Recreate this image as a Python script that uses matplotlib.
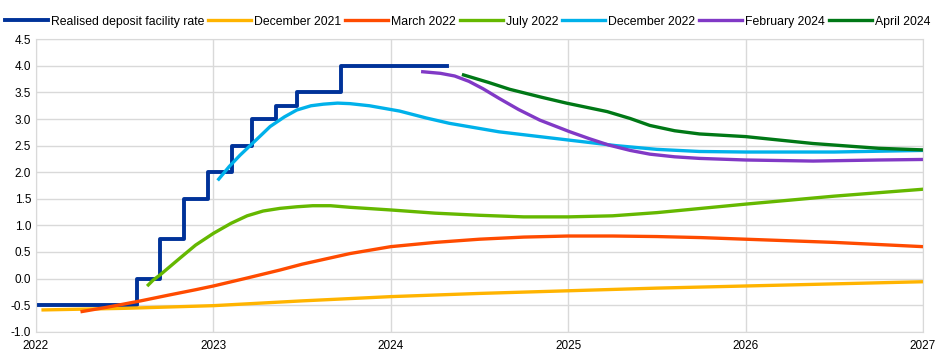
# Deposit facility rate: realised path and market-implied forward curves
import pandas as pd
import numpy as np
import matplotlib.pyplot as plt

plt.rcParams["font.family"] = ["Liberation Sans", "DejaVu Sans"]


def to_year(dates):
    d = pd.to_datetime(pd.Series(dates))
    days = np.where(d.dt.is_leap_year, 366, 365)
    return (d.dt.year + (d.dt.dayofyear - 1) / days).to_numpy()


# realised deposit facility rate (change dates)
dfr_dates = ["2022-01-01", "2022-07-27", "2022-09-14", "2022-11-02", "2022-12-21",
             "2023-02-08", "2023-03-22", "2023-05-10", "2023-06-21", "2023-09-20",
             "2024-04-26"]
dfr_rate = [-0.5, 0.0, 0.75, 1.5, 2.0, 2.5, 3.0, 3.25, 3.5, 4.0, 4.0]

# forward curves (decimal year, %)
dec21_x = [2022.04, 2022.5, 2023.0, 2023.5, 2024.0, 2024.5, 2025.0, 2025.5, 2026.0, 2026.5, 2027.0]
dec21_y = [-0.59, -0.56, -0.51, -0.42, -0.34, -0.28, -0.23, -0.18, -0.14, -0.10, -0.06]

mar22_x = [2022.26, 2022.4, 2022.59, 2022.75, 2022.9, 2023.0, 2023.19, 2023.375, 2023.5, 2023.77,
           2024.0, 2024.25, 2024.5, 2024.75, 2025.0, 2025.25, 2025.5, 2025.75, 2026.0,
           2026.5, 2027.0]
mar22_y = [-0.62, -0.54, -0.42, -0.31, -0.21, -0.14, 0.01, 0.16, 0.27, 0.47,
           0.60, 0.68, 0.74, 0.78, 0.80, 0.80, 0.79, 0.77, 0.74,
           0.68, 0.60]

jul22_x = [2022.633, 2022.66, 2022.70, 2022.81, 2022.9, 2023.0, 2023.1, 2023.19, 2023.28,
           2023.375, 2023.47, 2023.56, 2023.66, 2023.77, 2024.0, 2024.25, 2024.5, 2024.75,
           2025.0, 2025.25, 2025.5, 2025.75, 2026.0, 2026.5, 2027.0]
jul22_y = [-0.12, -0.03, 0.07, 0.38, 0.63, 0.85, 1.04, 1.18, 1.27,
           1.32, 1.35, 1.37, 1.37, 1.34, 1.29, 1.23, 1.19, 1.16,
           1.16, 1.18, 1.24, 1.32, 1.40, 1.55, 1.68]

dec22_x = [2023.03, 2023.09, 2023.15, 2023.21, 2023.27, 2023.32, 2023.4, 2023.47, 2023.55,
           2023.62, 2023.7, 2023.77, 2023.88, 2024.05, 2024.2, 2024.33, 2024.61, 2024.99,
           2025.27, 2025.5, 2025.74, 2026.0, 2026.5, 2027.0]
dec22_y = [1.87, 2.11, 2.32, 2.51, 2.70, 2.86, 3.04, 3.17, 3.25,
           3.28, 3.30, 3.29, 3.25, 3.15, 3.02, 2.92, 2.76, 2.61,
           2.50, 2.43, 2.39, 2.38, 2.38, 2.41]

feb24_x = [2024.18, 2024.28, 2024.36, 2024.44, 2024.52, 2024.61, 2024.72, 2024.84, 2025.01,
           2025.12, 2025.23, 2025.35, 2025.46, 2025.6, 2025.74, 2026.0, 2026.38, 2026.75, 2027.0]
feb24_y = [3.89, 3.86, 3.81, 3.71, 3.57, 3.39, 3.18, 2.98, 2.76,
           2.63, 2.51, 2.41, 2.34, 2.29, 2.26, 2.23, 2.21, 2.23, 2.24]

apr24_x = [2024.41, 2024.55, 2024.67, 2024.85, 2024.99, 2025.22, 2025.35, 2025.46, 2025.6,
           2025.74, 2026.0, 2026.38, 2026.75, 2027.0]
apr24_y = [3.83, 3.69, 3.56, 3.41, 3.30, 3.14, 3.01, 2.88, 2.78,
           2.72, 2.67, 2.54, 2.45, 2.42]

fig = plt.figure(figsize=(9.41, 3.64), dpi=100)
ax = fig.add_axes([36 / 941, 0.0887, 887 / 941, 0.8033])

lw = 2.4
ax.step(to_year(dfr_dates), dfr_rate, where="post", color="#003299", lw=2.8,
        label="Realised deposit facility rate")
ax.plot(dec21_x, dec21_y, color="#FFB400", lw=lw, label="December 2021")
ax.plot(mar22_x, mar22_y, color="#FF4B00", lw=lw, label="March 2022")
ax.plot(jul22_x, jul22_y, color="#65B800", lw=lw, label="July 2022")
ax.plot(dec22_x, dec22_y, color="#00B1EA", lw=lw, label="December 2022")
ax.plot(feb24_x, feb24_y, color="#8139C6", lw=lw, label="February 2024")
ax.plot(apr24_x, apr24_y, color="#007816", lw=lw, label="April 2024")

ax.set_xlim(2022, 2027)
ax.set_ylim(-1.0, 4.5)
ax.set_xticks(range(2022, 2028))
ax.set_yticks(np.arange(-1.0, 4.51, 0.5))
ax.set_yticklabels([f"{v:.1f}" for v in np.arange(-1.0, 4.51, 0.5)])
ax.tick_params(length=0, labelsize=8.5, colors="#000000")
ax.tick_params(axis="x", pad=6)
ax.grid(True, color="#d9d9d9", lw=1)
ax.set_axisbelow(True)
for s in ax.spines.values():
    s.set_color("#d9d9d9")

ax.legend(loc="lower left", bbox_to_anchor=(-31 / 887, 1.04), ncol=7, frameon=False,
          fontsize=8.8, handlelength=3.5, handletextpad=0.25, columnspacing=0.33,
          borderaxespad=0, borderpad=0)

plt.savefig("out.png", dpi=100)
